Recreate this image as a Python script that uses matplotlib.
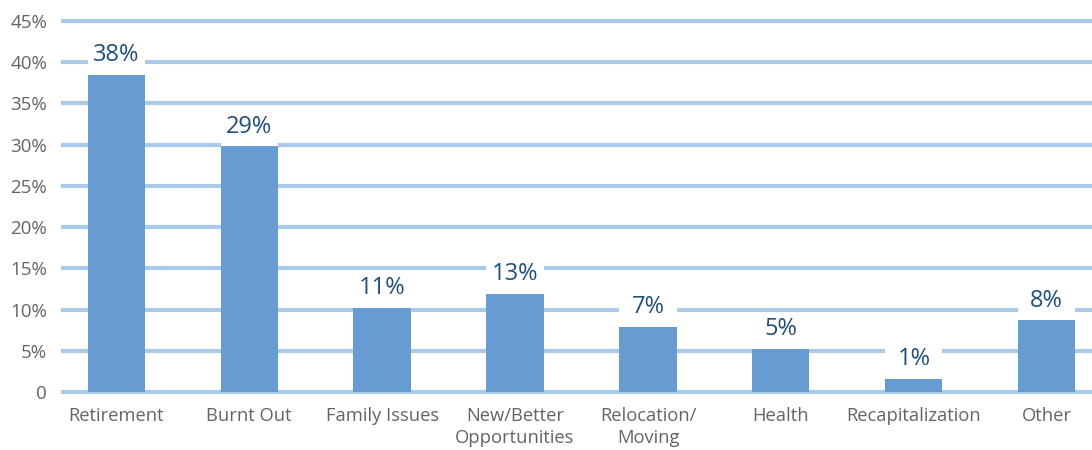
import numpy as np
import matplotlib.pyplot as plt

categories = ['Retirement', 'Burnt Out', 'Family Issues', 'New/Better\nOpportunities',
              'Relocation/\nMoving', 'Health', 'Recapitalization', 'Other']
bar_values = [38.5, 29.8, 10.2, 11.9, 7.9, 5.2, 1.6, 8.7]
bar_labels = ['38%', '29%', '11%', '13%', '7%', '5%', '1%', '8%']
yticks = [0, 5, 10, 15, 20, 25, 30, 35, 40, 45]
ytick_labels = ['0', '5%', '10%', '15%', '20%', '25%', '30%', '35%', '40%', '45%']

bar_color = '#669cd2'
grid_color = '#a9cbe9'
label_color = '#1f4e80'
tick_color = '#646464'

plt.rcParams['font.family'] = ['Open Sans', 'DejaVu Sans']

fig = plt.figure(figsize=(10.92, 4.5), dpi=100)
ax = fig.add_axes([63 / 1092, 58 / 450, 1 - 63 / 1092, 371 / 450])

x = np.arange(len(categories))
w = 0.43

for t in yticks:
    ax.axhline(t, color=grid_color, linewidth=3, zorder=1, clip_on=False)

# white patches behind the value labels hide the grid lines
ax.bar(x, [4.2] * len(x), w, bottom=bar_values, color='white', zorder=2)
ax.bar(x, bar_values, w, color=bar_color, zorder=3)

for xi, v, lab in zip(x, bar_values, bar_labels):
    ax.annotate(lab, (xi, v), xytext=(0, 5.5), textcoords='offset points',
                ha='center', va='bottom', fontsize=17, color=label_color, zorder=4)

ax.set_xlim(-0.4, 7.34)
ax.set_ylim(0, 45)
ax.set_xticks(x)
ax.set_xticklabels(categories, fontsize=13.2, color=tick_color, linespacing=1.3)
ax.set_yticks(yticks)
ax.set_yticklabels(ytick_labels, fontsize=13.5, color=tick_color)
ax.tick_params(axis='both', length=0)
ax.tick_params(axis='y', pad=11.5)
ax.tick_params(axis='x', pad=10.5)
for s in ax.spines.values():
    s.set_visible(False)

fig.savefig('out.png', dpi=100)
